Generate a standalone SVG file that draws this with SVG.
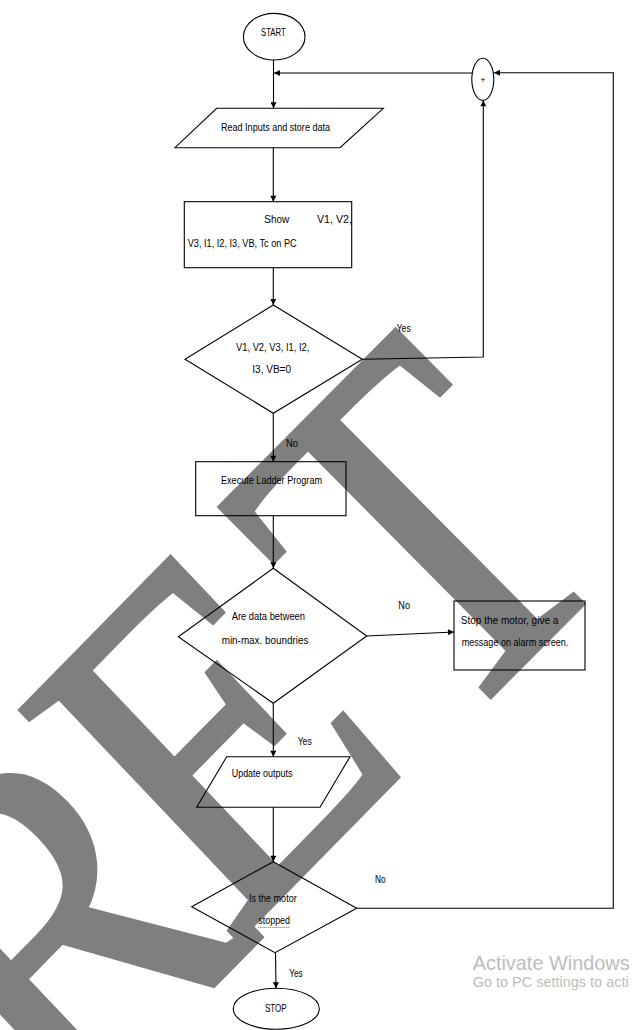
<svg xmlns="http://www.w3.org/2000/svg" width="635" height="1030" viewBox="0 0 635 1030">
<defs>
<marker id="ah" viewBox="0 0 10 10" refX="10" refY="5" markerWidth="7" markerHeight="6" markerUnits="userSpaceOnUse" orient="auto"><path d="M0,0 L10,5 L0,10 z" fill="#000"/></marker>
<style>
.s{fill:none;stroke:#000;stroke-width:1.1}
.c{fill:none;stroke:#000;stroke-width:1.1;marker-end:url(#ah)}
.t{font-family:"Liberation Sans",Arial,sans-serif;font-size:10px;fill:#000}
.wm{font-family:"Liberation Serif","Times New Roman",serif;font-size:100px;fill:#7f7f7f;stroke:#7f7f7f;stroke-width:1;stroke-linejoin:miter}
.aw{font-family:"Liberation Sans",Arial,sans-serif;fill:#bdbdbd}
</style>
</defs>
<rect width="635" height="1030" fill="#fff"/>
<g id="watermark">
<text class="wm" transform="matrix(3.056,-3.111,3.323,3.505,58,1144)">R</text>
<text class="wm" transform="matrix(3.056,-3.111,3.323,3.505,229.3,948.7)">E</text>
<text class="wm" transform="matrix(3.056,-3.073,3.5,3.53,443.5,743.9)">T</text>
</g>
<g id="connectors">
<line class="c" x1="273.5" y1="60" x2="273.5" y2="108.3"/>
<line class="c" x1="472" y1="73" x2="274" y2="73"/>
<line class="c" x1="273.3" y1="147.7" x2="273.3" y2="201.7"/>
<line class="c" x1="273.3" y1="267.7" x2="273.3" y2="305"/>
<polyline class="c" points="362.3,359.3 483.3,357 483.3,100.3"/>
<line class="c" x1="273.3" y1="413.3" x2="273.3" y2="461.7"/>
<line class="c" x1="273.3" y1="515.7" x2="273.3" y2="568.3"/>
<line class="c" x1="366.7" y1="636" x2="454" y2="632"/>
<line class="c" x1="273.3" y1="703.3" x2="273.3" y2="756.7"/>
<line class="c" x1="273.3" y1="807.3" x2="273.3" y2="861.7"/>
<polyline class="c" points="356.7,908.3 613.3,908.3 613.3,72.7 494,72.7"/>
<line class="c" x1="275.5" y1="952.7" x2="276" y2="988.3"/>
<text class="t" x="396.7" y="332" textLength="14" lengthAdjust="spacingAndGlyphs">Yes</text>
<text class="t" x="286" y="447" textLength="12" lengthAdjust="spacingAndGlyphs">No</text>
<text class="t" x="398.3" y="608.5" textLength="11.7" lengthAdjust="spacingAndGlyphs">No</text>
<text class="t" x="297.7" y="745" textLength="14" lengthAdjust="spacingAndGlyphs">Yes</text>
<text class="t" x="375" y="883" textLength="10.7" lengthAdjust="spacingAndGlyphs">No</text>
<text class="t" x="289.3" y="977" textLength="13.4" lengthAdjust="spacingAndGlyphs">Yes</text>
</g>
<g id="start">
<ellipse class="s" cx="274.2" cy="36.7" rx="30.8" ry="23.3"/>
<text class="t" x="261" y="35.5" textLength="24.7" lengthAdjust="spacingAndGlyphs">START</text>
</g>
<g id="plus">
<ellipse class="s" cx="482.8" cy="79.3" rx="11" ry="21"/>
<text class="t" x="482.8" y="83" text-anchor="middle" style="font-size:9px">+</text>
</g>
<g id="read">
<polygon class="s" points="216.7,108.3 383.3,108.3 340,147.7 175,147.7"/>
<text class="t" x="221" y="131" textLength="109" lengthAdjust="spacingAndGlyphs">Read Inputs  and store data</text>
</g>
<g id="show">
<rect class="s" x="184.3" y="201.7" width="167.4" height="66"/>
<text class="t" x="264.3" y="223" textLength="25" lengthAdjust="spacingAndGlyphs">Show</text>
<text class="t" x="317" y="223" textLength="35" lengthAdjust="spacingAndGlyphs">V1, V2,</text>
<text class="t" x="187.7" y="247" textLength="109" lengthAdjust="spacingAndGlyphs">V3, I1, I2, I3, VB, Tc on PC</text>
</g>
<g id="check-zero">
<polygon class="s" points="273.3,305 362.3,359.3 273.3,413.3 185,359.3"/>
<text class="t" x="236" y="350.5" textLength="73.3" lengthAdjust="spacingAndGlyphs">V1, V2, V3, I1, I2,</text>
<text class="t" x="252.3" y="373" textLength="38.7" lengthAdjust="spacingAndGlyphs">I3, VB=0</text>
</g>
<g id="execute">
<rect class="s" x="195.7" y="461.7" width="150.3" height="54"/>
<text class="t" x="221" y="484" textLength="101" lengthAdjust="spacingAndGlyphs">Execute Ladder Program</text>
</g>
<g id="check-range">
<polygon class="s" points="273.3,568.3 366.7,636 273.3,703.3 178.3,636.7"/>
<text class="t" x="231.7" y="619.5" textLength="73.3" lengthAdjust="spacingAndGlyphs">Are data between</text>
<text class="t" x="221.7" y="643.5" textLength="86.7" lengthAdjust="spacingAndGlyphs">min-max. boundries</text>
</g>
<g id="stop-motor">
<rect class="s" x="454" y="601" width="131" height="69"/>
<text class="t" x="460.7" y="623.5" textLength="97.7" lengthAdjust="spacingAndGlyphs">Stop the motor, give a</text>
<text class="t" x="461.7" y="646" textLength="106.7" lengthAdjust="spacingAndGlyphs">message on alarm screen.</text>
</g>
<g id="update">
<polygon class="s" points="226.7,756.7 350,756.7 320,807.3 196.7,807.3"/>
<text class="t" x="231.7" y="777" textLength="60.7" lengthAdjust="spacingAndGlyphs">Update outputs</text>
</g>
<g id="motor-stopped">
<polygon class="s" points="273.3,861.7 356.7,908.3 275,952.7 191.7,906.7"/>
<text class="t" x="249" y="902" textLength="47.7" lengthAdjust="spacingAndGlyphs">Is the motor</text>
<text class="t" x="258.3" y="924" textLength="31.7" lengthAdjust="spacingAndGlyphs">stopped</text>
<line x1="258.3" y1="927.5" x2="290" y2="927.5" stroke="#3a9a3a" stroke-width="1" stroke-dasharray="1,1"/>
</g>
<g id="stop">
<ellipse class="s" cx="276.3" cy="1008.8" rx="43" ry="20.5"/>
<text class="t" x="265" y="1012" textLength="21.7" lengthAdjust="spacingAndGlyphs">STOP</text>
</g>
<g id="activate">
<text class="aw" x="472.7" y="970" style="font-size:21px" textLength="157" lengthAdjust="spacingAndGlyphs">Activate Windows</text>
<text class="aw" x="472.7" y="987" style="font-size:15.5px" textLength="156" lengthAdjust="spacingAndGlyphs">Go to PC settings to acti</text>
</g>
</svg>
